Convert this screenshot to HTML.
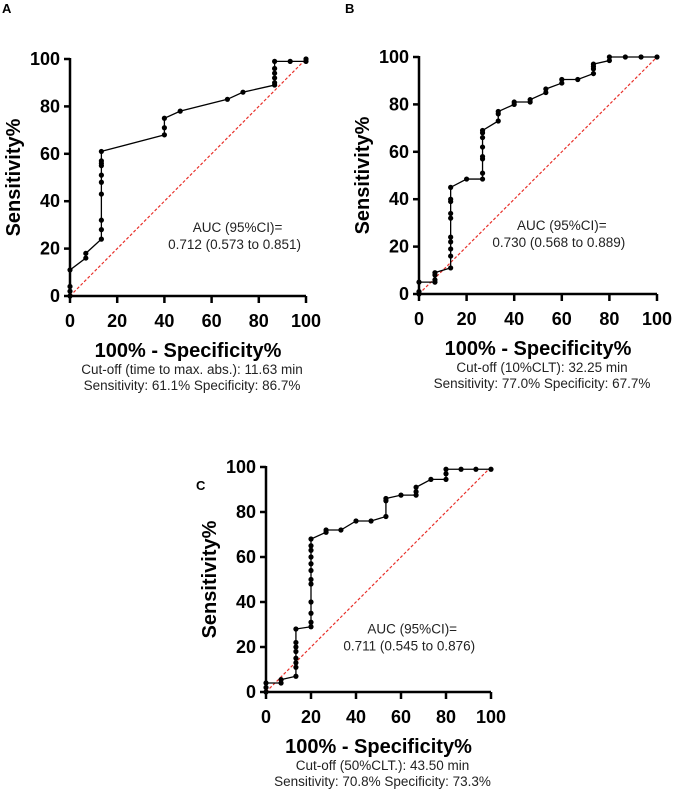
<!DOCTYPE html>
<html><head><meta charset="utf-8"><style>
body{margin:0;background:#fff;}
svg{display:block;font-family:"Liberation Sans",Arial,sans-serif;}
.tick{font-size:18px;font-weight:bold;}
.ttl{font-size:20px;font-weight:bold;}
.ann{font-size:13.5px;fill:#222;}
</style></head><body>
<svg id="fig" width="673" height="793" viewBox="0 0 673 793" xmlns="http://www.w3.org/2000/svg"></svg>
<script>
const ticks=[0,20,40,60,80,100];
const aX=[0,0,0,0,6.7,6.7,13.3,13.3,13.3,13.3,13.3,13.3,13.3,13.3,13.3,13.3,40,40,40,46.7,66.7,73.3,86.7,86.7,86.7,86.7,86.7,86.7,93.3,100,100];
const aY=[0,2,4,11,16,18,24,28,32,43,48,51,55,56,57,61,68,71,75,78,83,86,89,90,92,94,96,99,99,99,100];
const bX=[0,0,0,6.7,6.7,6.7,6.7,13.3,13.3,13.3,13.3,13.3,13.3,13.3,13.3,13.3,13.3,20,26.7,26.7,26.7,26.7,26.7,26.7,26.7,26.7,33.3,33.3,33.3,40,40,46.7,46.7,53.3,53.3,60,60,66.7,73.3,73.3,73.3,73.3,80,80,86.7,93.3,100];
const bY=[0,1,5,5,6,8,9,11,16,19,22,24,32,34,39,40,45,48.5,48.5,51,57,58,62,66,68,69,73,76,77,80,81,81,82,85,86.5,89,90.5,90.5,93,95,96,97,98.5,100,100,100,100];
const cX=[0,0,0,6.7,6.7,13.3,13.3,13.3,13.3,13.3,13.3,13.3,13.3,20,20,20,20,20,20,20,20,20,20,20,20,26.7,26.7,33.3,40,46.7,53.3,53.3,53.3,60,66.7,66.7,66.7,73.3,80,80,80,86.7,93.3,100];
const cY=[0,2,4,4,5.5,7,11,13,15,18,20,22,28,29,31,35,40,48,50,54,57,60,63,65,68,71,72,72,76,76,78,85,86,87.5,87.5,89,91,94.5,94.5,97,99,99,99,99];
const NS="http://www.w3.org/2000/svg";
const svg=document.getElementById('fig');
function mk(tag,attrs,parent,text){const e=document.createElementNS(NS,tag);for(const k in attrs)e.setAttribute(k,attrs[k]);if(text!==undefined)e.textContent=text;parent.appendChild(e);return e;}
function panel(id,letter,lx,ly,x0,x1,y0,y1,xs,ys,auc,cut,sens,ax_,ay_){
  const g=mk('g',{},svg);
  
  
  const sx=v=>x0+(x1-x0)*v/100, sy=v=>y0-(y0-y1)*v/100;
  const L=mk('text',{x:lx,y:ly,'font-size':13,'font-weight':'bold'},g,letter);
  
  const d=mk('line',{x1:sx(0),y1:sy(0),x2:sx(100),y2:sy(100),stroke:'#e8302a','stroke-width':1.2,'stroke-dasharray':'3,2'},g);
  
  const ax=mk('path',{d:`M${x0},${y1-1}V${y0}H${x1}`,fill:'none',stroke:'#000','stroke-width':2.5},g);
  
  ticks.forEach(t=>{
    mk('line',{x1:x0-6,y1:sy(t),x2:x0,y2:sy(t),stroke:'#000','stroke-width':2.5},g);
    const yl=mk('text',{x:x0-10,y:sy(t)+6,'text-anchor':'end',class:'tick'},g,t);
    
    mk('line',{x1:sx(t),y1:y0,x2:sx(t),y2:y0+7,stroke:'#000','stroke-width':2.5},g);
    const xl=mk('text',{x:sx(t),y:y0+31,'text-anchor':'middle',class:'tick'},g,t);
    
  });
  const yt=mk('text',{transform:`translate(${x0-50},${(y0+y1)/2}) rotate(-90)`,'text-anchor':'middle',class:'ttl'},g,'Sensitivity%');
  
  const xt=mk('text',{x:(x0+x1)/2,y:y0+61,'text-anchor':'middle',class:'ttl'},g,'100% - Specificity%');
  
  let p='';xs.forEach((v,i)=>{p+=(i?'L':'M')+sx(v)+','+sy(ys[i]);});
  const ln=mk('path',{d:p,fill:'none',stroke:'#000','stroke-width':1.3},g);
  
  xs.forEach((v,i)=>{const c=mk('circle',{cx:sx(v),cy:sy(ys[i]),r:2.6,fill:'#000'},g);
    });
  const cx=sx(ax_), cy=sy(ay_);
  const a1=mk('text',{x:cx,y:cy,'text-anchor':'middle',class:'ann'},g,'AUC (95%CI)=');
  
  const a2=mk('text',{x:cx-3,y:cy+17,'text-anchor':'middle',class:'ann'},g,auc);
  
  const c1=mk('text',{x:(x0+x1)/2+4,y:y0+78,'text-anchor':'middle',class:'ann'},g,cut);
  
  const c2=mk('text',{x:(x0+x1)/2+4,y:y0+94,'text-anchor':'middle',class:'ann'},g,sens);
  
}
panel('a','A',2,13,70,306,296,59,aX,aY,'0.712 (0.573 to 0.851)','Cut-off (time to max. abs.): 11.63  min','Sensitivity: 61.1% Specificity: 86.7%',71,27);
panel('b','B',345,13,419,657,294,57,bX,bY,'0.730 (0.568 to 0.889)','Cut-off (10%CLT): 32.25  min','Sensitivity: 77.0% Specificity: 67.7%',60,27);
panel('c','C',196,490,266,491,692,467,cX,cY,'0.711 (0.545 to 0.876)','Cut-off (50%CLT.): 43.50  min','Sensitivity: 70.8% Specificity: 73.3%',65,26);
</script>
</body></html>
